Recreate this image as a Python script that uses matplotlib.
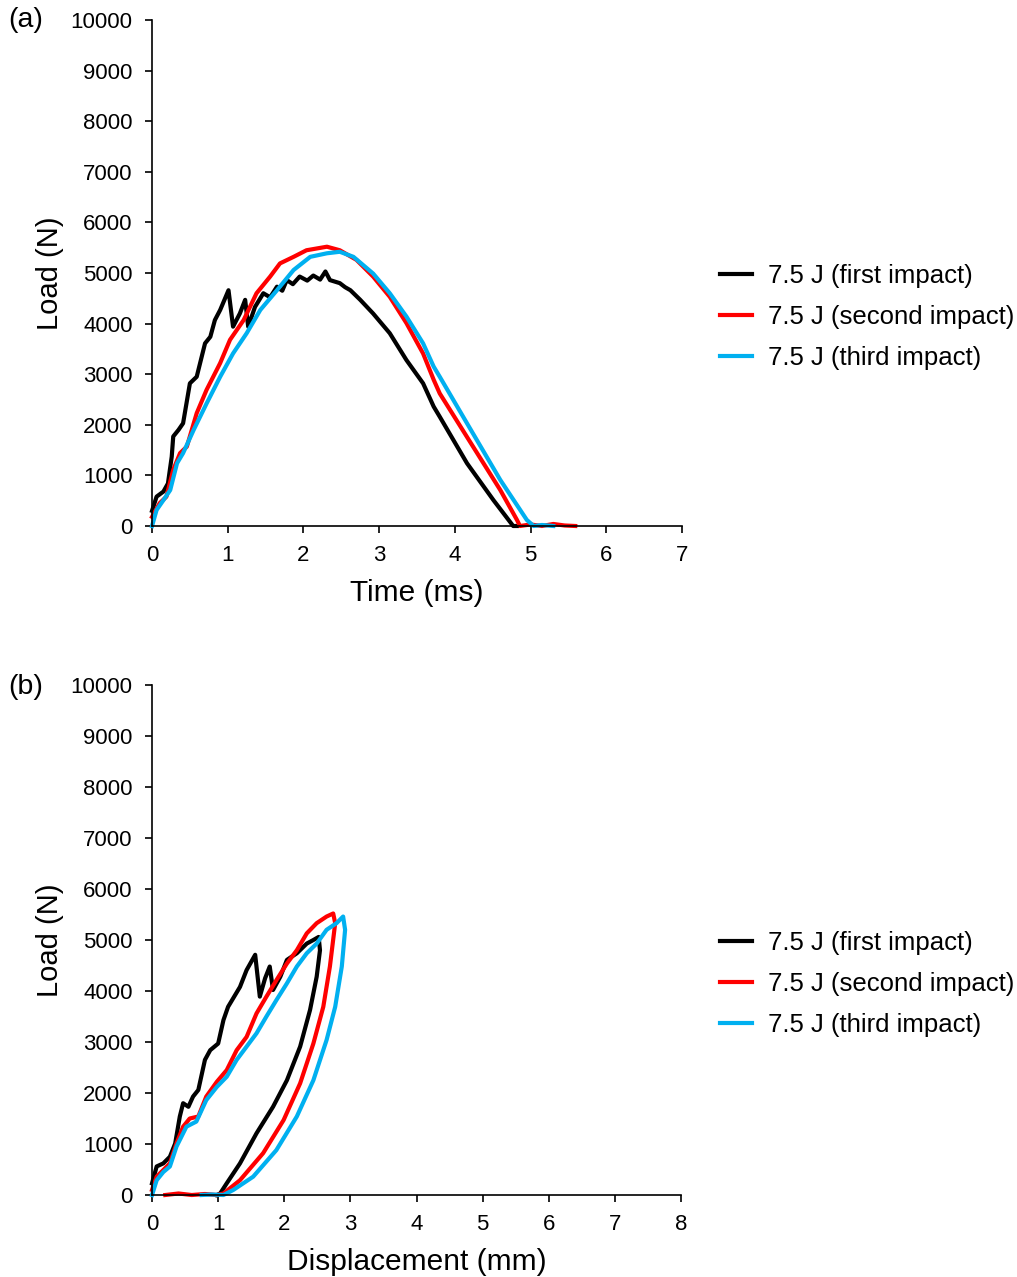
import matplotlib
matplotlib.use("Agg")
import matplotlib.pyplot as plt

plt.rcParams['font.family'] = ['Liberation Sans', 'DejaVu Sans']

# (a) load vs time
T1 = [0, 0.06, 0.15, 0.21, 0.26, 0.28, 0.35, 0.41, 0.50, 0.59, 0.70, 0.77, 0.83, 0.90, 1.01,
      1.07, 1.16, 1.23, 1.27, 1.36, 1.47, 1.56, 1.65, 1.72, 1.78, 1.86, 1.95, 2.05, 2.13, 2.22,
      2.29, 2.35, 2.48, 2.55, 2.62, 2.75, 2.92, 3.14, 3.36, 3.58, 3.72, 3.80, 4.16, 4.51, 4.77,
      4.82]
L1 = [300, 580, 680, 840, 1370, 1770, 1900, 2030, 2820, 2950, 3610, 3740, 4070, 4270, 4660,
      3940, 4200, 4470, 3940, 4330, 4600, 4520, 4730, 4650, 4860, 4780, 4930, 4850, 4950, 4870,
      5030, 4860, 4800, 4720, 4660, 4470, 4200, 3810, 3280, 2820, 2360, 2160, 1240, 510, 0,
      0]

T2 = [0, 0.10, 0.19, 0.28, 0.37, 0.46, 0.59, 0.72, 0.90, 1.03, 1.21, 1.38, 1.56, 1.69, 1.87,
      2.04, 2.31, 2.48, 2.70, 2.92, 3.14, 3.36, 3.58, 3.72, 3.80, 4.16, 4.60, 4.82, 4.86,
      5.00, 5.15, 5.30, 5.45, 5.59]
L2 = [180, 450, 580, 1110, 1440, 1570, 2230, 2690, 3220, 3680, 4070, 4600, 4930, 5190, 5320,
      5450, 5520, 5450, 5260, 4930, 4530, 4010, 3410, 2890, 2620, 1760, 710, 120, 0,
      30, 0, 40, 10, 0]

T3 = [0, 0.06, 0.15, 0.24, 0.33, 0.41, 0.55, 0.72, 0.90, 1.07, 1.25, 1.43, 1.65, 1.87, 2.09,
      2.31, 2.48, 2.66, 2.92, 3.14, 3.36, 3.58, 3.72, 3.80, 4.16, 4.60, 4.95, 5.04, 5.15, 5.30]
L3 = [0, 316, 510, 710, 1240, 1440, 1900, 2420, 2950, 3410, 3810, 4270, 4660, 5060, 5320,
      5390, 5420, 5320, 4990, 4600, 4140, 3610, 3150, 2950, 2030, 910, 120, 0, 20, 0]

# (b) load vs displacement
D1 = [0, 0.07, 0.17, 0.27, 0.35, 0.42, 0.47, 0.55, 0.62, 0.70, 0.80, 0.88, 1.00, 1.08, 1.15,
      1.33, 1.43, 1.56, 1.63, 1.71, 1.78, 1.83, 1.94, 2.04, 2.19, 2.34, 2.44, 2.52,
      2.54, 2.49, 2.39, 2.24, 2.04, 1.83, 1.58, 1.33, 1.13, 1.03, 0.98]
P1 = [230, 560, 620, 750, 1010, 1540, 1800, 1730, 1930, 2060, 2650, 2840, 2970, 3430, 3690,
      4080, 4410, 4710, 3890, 4250, 4480, 4020, 4280, 4610, 4740, 4930, 5000, 5060,
      4800, 4280, 3630, 2910, 2250, 1730, 1210, 620, 230, 30, 0]

D2 = [0, 0.07, 0.17, 0.27, 0.37, 0.47, 0.57, 0.70, 0.82, 0.98, 1.13, 1.28, 1.43, 1.58, 1.73,
      1.88, 2.04, 2.19, 2.34, 2.49, 2.64, 2.74,
      2.77, 2.69, 2.59, 2.44, 2.24, 1.99, 1.68, 1.33, 1.08, 0.98, 0.80, 0.60, 0.40, 0.20]
P2 = [100, 360, 490, 620, 1010, 1340, 1500, 1540, 1930, 2220, 2450, 2840, 3100, 3560, 3890,
      4210, 4540, 4800, 5130, 5330, 5460, 5520,
      5330, 4480, 3690, 2970, 2190, 1470, 820, 290, 30, 0, 20, 0, 30, 0]

D3 = [0, 0.07, 0.17, 0.27, 0.37, 0.52, 0.67, 0.82, 0.98, 1.13, 1.28, 1.43, 1.58, 1.73, 1.88,
      2.04, 2.19, 2.34, 2.49, 2.64, 2.79, 2.89,
      2.92, 2.87, 2.77, 2.64, 2.44, 2.19, 1.88, 1.53, 1.23, 1.08, 0.90, 0.75]
P3 = [0, 290, 450, 560, 950, 1340, 1440, 1860, 2120, 2320, 2650, 2910, 3170, 3500, 3820,
      4150, 4480, 4740, 4930, 5200, 5330, 5460,
      5200, 4480, 3690, 3040, 2250, 1540, 880, 360, 100, 0, 10, 0]

LABELS = ['7.5 J (first impact)', '7.5 J (second impact)', '7.5 J (third impact)']
COLORS = ['#000000', '#ff0000', '#00b0f0']

fig = plt.figure(figsize=(10.17, 12.77), dpi=100)
ax1 = fig.add_axes([0.1495, 0.5881, 0.5211, 0.3962])
ax2 = fig.add_axes([0.1495, 0.0642, 0.5201, 0.3994])


def style(ax, xmax, xlabel):
    for s in ['top', 'right']:
        ax.spines[s].set_visible(False)
    for s in ['left', 'bottom']:
        ax.spines[s].set_linewidth(1.2)
    ax.set_xlim(0, xmax)
    ax.set_ylim(0, 10000)
    ax.set_xticks(range(0, xmax + 1))
    ax.set_yticks(range(0, 10001, 1000))
    ax.tick_params(direction='out', length=5, width=1.2, labelsize=16)
    ax.tick_params(axis='x', pad=9)
    ax.tick_params(axis='y', pad=9)
    ax.set_xlabel(xlabel, fontsize=21.5, labelpad=9)
    ax.set_ylabel('Load (N)', fontsize=21, labelpad=5)


for xs, ys, c, lab in zip([T1, T2, T3], [L1, L2, L3], COLORS, LABELS):
    ax1.plot(xs, ys, color=c, lw=3, label=lab, clip_on=False)
style(ax1, 7, 'Time (ms)')

for xs, ys, c, lab in zip([D1, D2, D3], [P1, P2, P3], COLORS, LABELS):
    ax2.plot(xs, ys, color=c, lw=3, label=lab, clip_on=False)
style(ax2, 8, 'Displacement (mm)')

for ax, yc in [(ax1, 0.7518), (ax2, 0.2295)]:
    ax.legend(loc='center left', bbox_to_anchor=(0.708, yc), bbox_transform=fig.transFigure,
              frameon=False, fontsize=18.5, handlelength=1.25, handletextpad=0.62,
              labelspacing=0.66, borderpad=0, borderaxespad=0)

fig.text(0.008, 0.984, '(a)', fontsize=20.5, va='center', ha='left')
fig.text(0.008, 0.462, '(b)', fontsize=20.5, va='center', ha='left')

fig.savefig('out.png', dpi=100)
